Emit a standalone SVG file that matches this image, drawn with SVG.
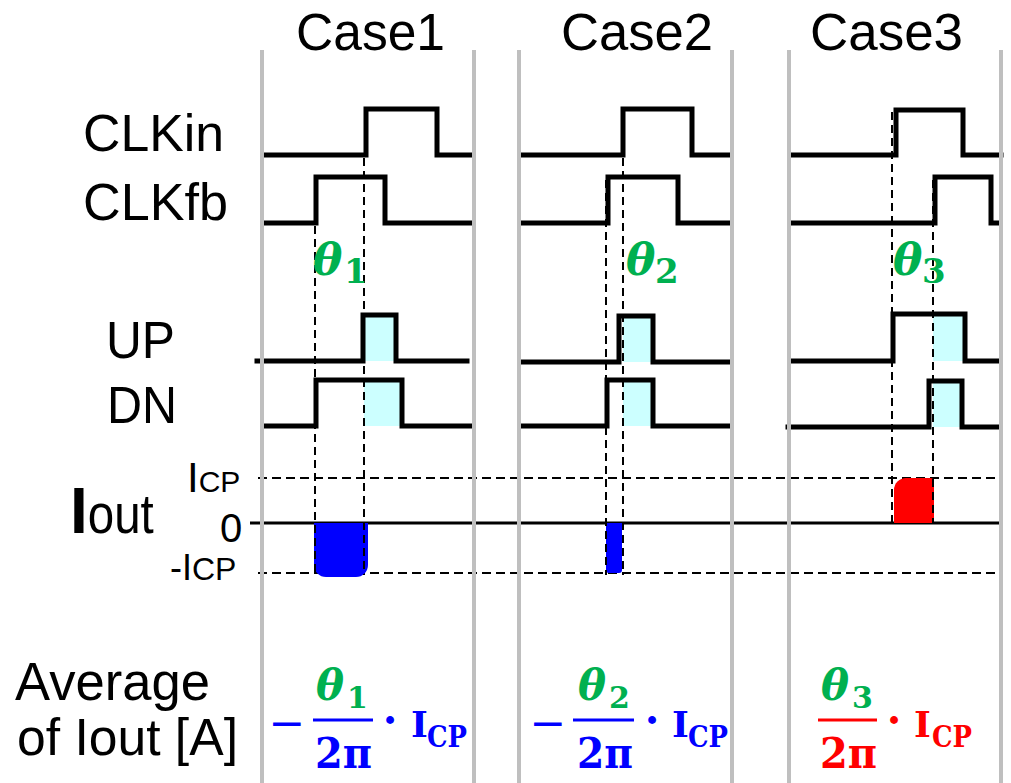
<svg xmlns="http://www.w3.org/2000/svg" width="1011" height="783" viewBox="0 0 1011 783">
  <style>
    .lbl { font-family: "Liberation Sans", Arial, sans-serif; fill: #000; }
    .wave { fill: none; stroke: #000; stroke-width: 5; stroke-linejoin: miter; stroke-linecap: square; }
    .hl { fill: #CCFFFF; }
    .vdash { stroke: #000; stroke-width: 2; stroke-dasharray: 8 5; fill: none; }
    .hdash { stroke: #000; stroke-width: 2; stroke-dasharray: 9 5; fill: none; }
    .sep { stroke: #BFBFBF; stroke-width: 4; }
    .th { font-family: "DejaVu Serif", "Liberation Serif", serif; font-weight: bold; font-style: italic; fill: #00B050; }
    .sub { font-family: "DejaVu Serif", "Liberation Serif", serif; font-weight: bold; fill: #00B050; }
    .m { font-family: "DejaVu Serif", "Liberation Serif", serif; font-weight: bold; }
    .op { font-family: "DejaVu Serif", "Liberation Serif", serif; font-weight: normal; }
    .blue { fill: #0000FF; }
    .red { fill: #FF0000; }
  </style>

  <rect width="1011" height="783" fill="#fff"/>

  <!-- column titles -->
  <g id="titles" class="lbl" font-size="51">
    <text x="296" y="50" textLength="149" lengthAdjust="spacingAndGlyphs">Case1</text>
    <text x="561" y="50" textLength="152" lengthAdjust="spacingAndGlyphs">Case2</text>
    <text x="810" y="50" textLength="153" lengthAdjust="spacingAndGlyphs">Case3</text>
  </g>

  <!-- row labels -->
  <g id="row-labels" class="lbl">
    <text x="83" y="151" font-size="52" textLength="141" lengthAdjust="spacingAndGlyphs">CLKin</text>
    <text x="83" y="220" font-size="52" textLength="145" lengthAdjust="spacingAndGlyphs">CLKfb</text>
    <text x="106" y="358" font-size="51" textLength="69" lengthAdjust="spacingAndGlyphs">UP</text>
    <text x="107" y="423" font-size="51" textLength="70" lengthAdjust="spacingAndGlyphs">DN</text>
    <text x="70" y="533"><tspan font-size="64" font-weight="bold">I</tspan><tspan font-size="56" textLength="66" lengthAdjust="spacingAndGlyphs">out</tspan></text>
    <text x="187" y="492"><tspan font-size="42">I</tspan><tspan font-size="30">CP</tspan></text>
    <text x="220" y="542" font-size="40">0</text>
    <text x="170" y="580"><tspan font-size="36">-I</tspan><tspan font-size="32">CP</tspan></text>
    <text x="15" y="700" font-size="53" textLength="195" lengthAdjust="spacingAndGlyphs">Average</text>
    <text x="17" y="755" font-size="52" textLength="221" lengthAdjust="spacingAndGlyphs">of Iout [A]</text>
  </g>

  <!-- current axis: zero line and ±ICP levels -->
  <g id="iout-axis">
    <line x1="258" y1="478" x2="1001" y2="478" class="hdash"/>
    <line x1="258" y1="573" x2="1001" y2="573" class="hdash"/>
    <line x1="250" y1="523" x2="1000" y2="523" stroke="#000" stroke-width="3"/>
  </g>

  <!-- Case 1: CLKfb leads CLKin -->
  <g id="case1">
    <rect class="hl" x="364" y="315" width="32" height="46"/>
    <rect class="hl" x="364" y="380" width="38" height="46"/>
    <polyline class="wave" points="263,155 366,155 366,109 437,109 437,155 473,155"/>
    <polyline class="wave" points="263,223 316,223 316,177 385,177 385,223 473,223"/>
    <polyline class="wave" points="257,361 363,361 363,315 396,315 396,361 467,361"/>
    <polyline class="wave" points="263,426 316,426 316,380 402,380 402,426 472,426"/>
    <path d="M314,523 H368 V565 A12,12 0 0 1 356,577 H326 A12,12 0 0 1 314,565 Z" class="blue"/>
    <line class="vdash" x1="315" y1="226" x2="315" y2="575"/>
    <line class="vdash" x1="364" y1="158" x2="364" y2="575"/>
    <text class="th" x="313" y="275" font-size="44">θ</text>
    <text class="sub" x="344" y="283" font-size="34">1</text>
  </g>

  <!-- Case 2: CLKfb slightly leads CLKin -->
  <g id="case2">
    <rect class="hl" x="623" y="316" width="30" height="46"/>
    <rect class="hl" x="623" y="380" width="30" height="46"/>
    <polyline class="wave" points="522,155 623,155 623,109 692,109 692,155 730,155"/>
    <polyline class="wave" points="522,223 608,223 608,177 678,177 678,223 730,223"/>
    <polyline class="wave" points="522,362 619,362 619,316 653,316 653,362 728,362"/>
    <polyline class="wave" points="522,426 607,426 607,380 653,380 653,426 728,426"/>
    <path d="M606,523 H622 V570 A3,3 0 0 1 619,573 H609 A3,3 0 0 1 606,570 Z" class="blue"/>
    <line class="vdash" x1="606" y1="180" x2="606" y2="575"/>
    <line class="vdash" x1="623" y1="158" x2="623" y2="575"/>
    <text class="th" x="626" y="275" font-size="44">θ</text>
    <text class="sub" x="655" y="283" font-size="34">2</text>
  </g>

  <!-- Case 3: CLKin leads CLKfb -->
  <g id="case3">
    <rect class="hl" x="933" y="314" width="32" height="47"/>
    <rect class="hl" x="933" y="381" width="29" height="46"/>
    <polyline class="wave" points="790,155 896,155 896,110 963,110 963,155 1001,155"/>
    <polyline class="wave" points="790,223 935,223 935,177 991,177 991,223 999,223"/>
    <polyline class="wave" points="790,361 893,361 893,314 965,314 965,361 999,361"/>
    <polyline class="wave" points="788,427 929,427 929,381 962,381 962,427 999,427"/>
    <path d="M894,523 V490 A12,12 0 0 1 906,478 H930 A4,4 0 0 1 934,482 V523 Z" class="red"/>
    <line class="vdash" x1="892" y1="112" x2="892" y2="527"/>
    <line class="vdash" x1="933" y1="180" x2="933" y2="523"/>
    <text class="th" x="893" y="275" font-size="44">θ</text>
    <text class="sub" x="922" y="283" font-size="34">3</text>
  </g>

  <!-- average output current formulas -->
  <g id="avg1">
    <text class="op blue" x="287" y="738" font-size="44" text-anchor="middle">−</text>
    <text class="th" x="316" y="700" font-size="42">θ</text>
    <text class="sub" x="347" y="708" font-size="30">1</text>
    <line x1="313" y1="720" x2="373" y2="720" stroke="#0000FF" stroke-width="3"/>
    <text class="m blue" x="315" y="768" font-size="43" textLength="57" lengthAdjust="spacingAndGlyphs">2π</text>
    <text class="m blue" x="390" y="735" font-size="42" text-anchor="middle">·</text>
    <text class="m blue" x="411" y="737" font-size="36">I</text>
    <text class="m blue" x="427" y="747" font-size="30" textLength="40" lengthAdjust="spacingAndGlyphs">CP</text>
  </g>
  <g id="avg2">
    <text class="op blue" x="548" y="738" font-size="44" text-anchor="middle">−</text>
    <text class="th" x="578" y="700" font-size="42">θ</text>
    <text class="sub" x="609" y="708" font-size="30">2</text>
    <line x1="573" y1="720" x2="634" y2="720" stroke="#0000FF" stroke-width="3"/>
    <text class="m blue" x="577" y="768" font-size="43" textLength="56" lengthAdjust="spacingAndGlyphs">2π</text>
    <text class="m blue" x="652" y="735" font-size="42" text-anchor="middle">·</text>
    <text class="m blue" x="672" y="737" font-size="36">I</text>
    <text class="m blue" x="688" y="747" font-size="30" textLength="40" lengthAdjust="spacingAndGlyphs">CP</text>
  </g>
  <g id="avg3">
    <text class="th" x="821" y="700" font-size="42">θ</text>
    <text class="sub" x="852" y="708" font-size="30">3</text>
    <line x1="818" y1="720" x2="877" y2="720" stroke="#FF0000" stroke-width="3"/>
    <text class="m red" x="820" y="768" font-size="43" textLength="57" lengthAdjust="spacingAndGlyphs">2π</text>
    <text class="m red" x="894" y="735" font-size="42" text-anchor="middle">·</text>
    <text class="m red" x="914" y="737" font-size="36">I</text>
    <text class="m red" x="932" y="747" font-size="30" textLength="40" lengthAdjust="spacingAndGlyphs">CP</text>
  </g>

  <!-- column separators, drawn over the traces -->
  <g id="separators" class="sep">
    <line x1="262" y1="50" x2="262" y2="783"/>
    <line x1="474" y1="50" x2="474" y2="783"/>
    <line x1="519" y1="50" x2="519" y2="783"/>
    <line x1="732" y1="50" x2="732" y2="783"/>
    <line x1="789" y1="50" x2="789" y2="783"/>
    <line x1="1001" y1="50" x2="1001" y2="783"/>
  </g>
</svg>
